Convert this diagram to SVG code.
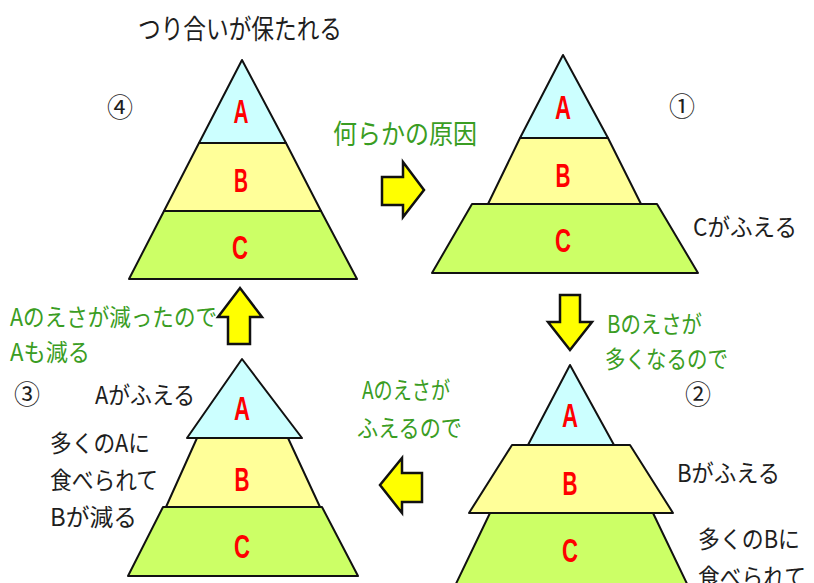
<svg xmlns="http://www.w3.org/2000/svg" width="814" height="583" viewBox="0 0 814 583">
<style>
.t{font-family:"Noto Sans CJK JP","Noto Sans",sans-serif;font-size:24px;fill:#1e1e1e}
.g{font-family:"Noto Sans CJK JP","Noto Sans",sans-serif;font-size:24px;fill:#3a9d23}
.big{font-size:27px}
.n{font-family:"Noto Sans CJK JP","Noto Sans",sans-serif;font-size:26px;fill:#1e1e1e;text-anchor:middle}
.lab{font-family:"Liberation Sans",Arial,sans-serif;font-weight:bold;font-size:33px;fill:#ff0000;text-anchor:middle}
.a{fill:#ccffff;stroke:#111;stroke-width:2;stroke-linejoin:round}
.b{fill:#ffff99;stroke:#111;stroke-width:2;stroke-linejoin:round}
.c{fill:#ccff66;stroke:#111;stroke-width:2;stroke-linejoin:round}
.arr{fill:#ffff00;stroke:#111;stroke-width:2.5;stroke-linejoin:miter}
</style>
<rect width="814" height="583" fill="#ffffff"/>

<g id="pyramid4">
<polygon class="c" points="164,211 321,211 357,279 129,279"/>
<polygon class="b" points="199,143 286,143 321,211 164,211"/>
<polygon class="a" points="242,60 286,143 199,143"/>
<text class="lab" x="241" y="123" textLength="15" lengthAdjust="spacingAndGlyphs">A</text>
<text class="lab" x="241" y="192" textLength="14" lengthAdjust="spacingAndGlyphs">B</text>
<text class="lab" x="240" y="259" textLength="16" lengthAdjust="spacingAndGlyphs">C</text>
<text class="t big" x="138" y="39" textLength="204" lengthAdjust="spacingAndGlyphs">つり合いが保たれる</text>
<text class="n" x="120" y="117">④</text>
</g>

<g id="pyramid1">
<polygon class="c" points="472,204 657,204 698,273 432,273"/>
<polygon class="b" points="520,138 608,138 641,204 488,204"/>
<polygon class="a" points="563,55 608,138 520,138"/>
<text class="lab" x="563" y="119" textLength="16" lengthAdjust="spacingAndGlyphs">A</text>
<text class="lab" x="563" y="187" textLength="15" lengthAdjust="spacingAndGlyphs">B</text>
<text class="lab" x="563" y="252" textLength="16" lengthAdjust="spacingAndGlyphs">C</text>
<text class="n" x="682" y="116">①</text>
<text class="t" x="693" y="236" textLength="104" lengthAdjust="spacingAndGlyphs">Cがふえる</text>
</g>

<g id="pyramid2">
<polygon class="c" points="490,513 653,513 690,590 453,590"/>
<polygon class="b" points="512,445 630,445 673,513 469,513"/>
<polygon class="a" points="570,365 614,445 528,445"/>
<text class="lab" x="570" y="427" textLength="16" lengthAdjust="spacingAndGlyphs">A</text>
<text class="lab" x="570" y="495" textLength="15" lengthAdjust="spacingAndGlyphs">B</text>
<text class="lab" x="570" y="562" textLength="16" lengthAdjust="spacingAndGlyphs">C</text>
<text class="n" x="698" y="404">②</text>
<text class="t" x="677" y="482" textLength="103" lengthAdjust="spacingAndGlyphs">Bがふえる</text>
<text class="t" x="698" y="548" textLength="102" lengthAdjust="spacingAndGlyphs">多くのBに</text>
<text class="t" x="698" y="586" textLength="108" lengthAdjust="spacingAndGlyphs">食べられて</text>
</g>

<g id="pyramid3">
<polygon class="c" points="163,507 322,507 358,576 128,576"/>
<polygon class="b" points="197,438 288,438 320,507 166,507"/>
<polygon class="a" points="242,359 302,438 187,438"/>
<text class="lab" x="242" y="420" textLength="16" lengthAdjust="spacingAndGlyphs">A</text>
<text class="lab" x="242" y="491" textLength="15" lengthAdjust="spacingAndGlyphs">B</text>
<text class="lab" x="242" y="558" textLength="16" lengthAdjust="spacingAndGlyphs">C</text>
<text class="n" x="27" y="404">③</text>
<text class="t" x="95" y="404" textLength="100" lengthAdjust="spacingAndGlyphs">Aがふえる</text>
<text class="t" x="50" y="452" textLength="100" lengthAdjust="spacingAndGlyphs">多くのAに</text>
<text class="t" x="50" y="489" textLength="108" lengthAdjust="spacingAndGlyphs">食べられて</text>
<text class="t" x="50" y="526" textLength="87" lengthAdjust="spacingAndGlyphs">Bが減る</text>
</g>

<g id="connectors">
<polygon class="arr" points="382,177 403,177 403,162 424,190 403,217 403,205 382,205"/>
<polygon class="arr" points="560,295 580,295 580,322 592,322 570,350 548,322 560,322"/>
<polygon class="arr" points="422,473 402,473 402,458 380,485 402,513 402,502 422,502"/>
<polygon class="arr" points="228,344 228,317 218,317 240,288 262,317 250,317 250,344"/>
<text class="g big" x="333" y="144" textLength="144" lengthAdjust="spacingAndGlyphs">何らかの原因</text>
<text class="g" x="607" y="333" textLength="95" lengthAdjust="spacingAndGlyphs">Bのえさが</text>
<text class="g" x="605" y="368" textLength="123" lengthAdjust="spacingAndGlyphs">多くなるので</text>
<text class="g" x="362" y="399" textLength="88" lengthAdjust="spacingAndGlyphs">Aのえさが</text>
<text class="g" x="357" y="437" textLength="105" lengthAdjust="spacingAndGlyphs">ふえるので</text>
<text class="g" x="10" y="326" textLength="207" lengthAdjust="spacingAndGlyphs">Aのえさが減ったので</text>
<text class="g" x="10" y="361" textLength="80" lengthAdjust="spacingAndGlyphs">Aも減る</text>
</g>
</svg>
